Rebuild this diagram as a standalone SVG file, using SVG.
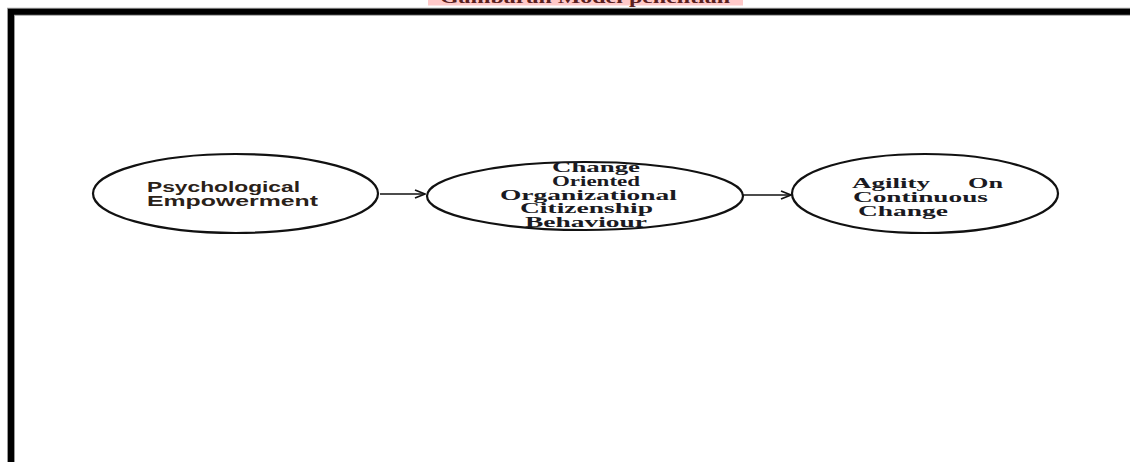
<svg xmlns="http://www.w3.org/2000/svg" width="1130" height="462" viewBox="0 0 1130 462">
  <style>
    .node ellipse { fill: #ffffff; stroke: #111111; stroke-width: 2.2; }
    .sans { font-family: "Liberation Sans", Arial, sans-serif; font-weight: bold; font-size: 14px; fill: #2a2118; }
    .serif { font-family: "Liberation Serif", "Times New Roman", serif; font-weight: bold; font-size: 14px; fill: #1a1a22; }
    .conn { stroke: #111111; stroke-width: 1.6; fill: none; }
  </style>
  <defs>
    <marker id="arrow" viewBox="0 0 12 10" refX="11" refY="5" markerWidth="12" markerHeight="10" markerUnits="userSpaceOnUse" orient="auto">
      <path d="M1,1 L11,5 L1,9" fill="none" stroke="#111111" stroke-width="1.8"/>
    </marker>
  </defs>
  <rect width="1130" height="462" fill="#ffffff"/>

  <g id="title">
    <rect x="428" y="0" width="315" height="5.5" fill="#ffc9c9"/>
    <text x="585" y="3" text-anchor="middle" font-family="Liberation Serif, serif" font-size="16" font-weight="bold" fill="#5a2020" textLength="290" lengthAdjust="spacingAndGlyphs">Gambaran Model penelitian</text>
  </g>

  <g id="frame">
    <path d="M11,462 V11.8 H1130" fill="none" stroke="#9a9a9a" stroke-width="8"/>
    <path d="M11,462 V11.8 H1130" fill="none" stroke="#000000" stroke-width="6"/>
  </g>

  <g id="connectors">
    <line class="conn" x1="380" y1="194" x2="425" y2="194" marker-end="url(#arrow)"/>
    <line class="conn" x1="743" y1="195" x2="791" y2="195" marker-end="url(#arrow)"/>
  </g>

  <g id="node-psychological-empowerment" class="node">
    <ellipse cx="235.5" cy="193.5" rx="142.5" ry="39.5"/>
    <text class="sans" x="147" y="192" textLength="153" lengthAdjust="spacingAndGlyphs">Psychological</text>
    <text class="sans" x="147" y="206" textLength="171" lengthAdjust="spacingAndGlyphs">Empowerment</text>
  </g>

  <g id="node-change-oriented-ocb" class="node">
    <ellipse cx="585" cy="196" rx="158" ry="34"/>
    <text class="serif" x="552" y="172" textLength="88" lengthAdjust="spacingAndGlyphs">Change</text>
    <text class="serif" x="552" y="186" textLength="88" lengthAdjust="spacingAndGlyphs">Oriented</text>
    <text class="serif" x="500" y="200" textLength="177" lengthAdjust="spacingAndGlyphs">Organizational</text>
    <text class="serif" x="520" y="213" textLength="133" lengthAdjust="spacingAndGlyphs">Citizenship</text>
    <text class="serif" x="525" y="227" textLength="122" lengthAdjust="spacingAndGlyphs">Behaviour</text>
  </g>

  <g id="node-agility-on-continuous-change" class="node">
    <ellipse cx="925" cy="193.5" rx="133" ry="39.5"/>
    <text class="serif" x="852" y="188" textLength="78" lengthAdjust="spacingAndGlyphs">Agility</text>
    <text class="serif" x="968" y="188" textLength="35" lengthAdjust="spacingAndGlyphs">On</text>
    <text class="serif" x="853" y="202" textLength="135" lengthAdjust="spacingAndGlyphs">Continuous</text>
    <text class="serif" x="858" y="216" textLength="90" lengthAdjust="spacingAndGlyphs">Change</text>
  </g>
</svg>
